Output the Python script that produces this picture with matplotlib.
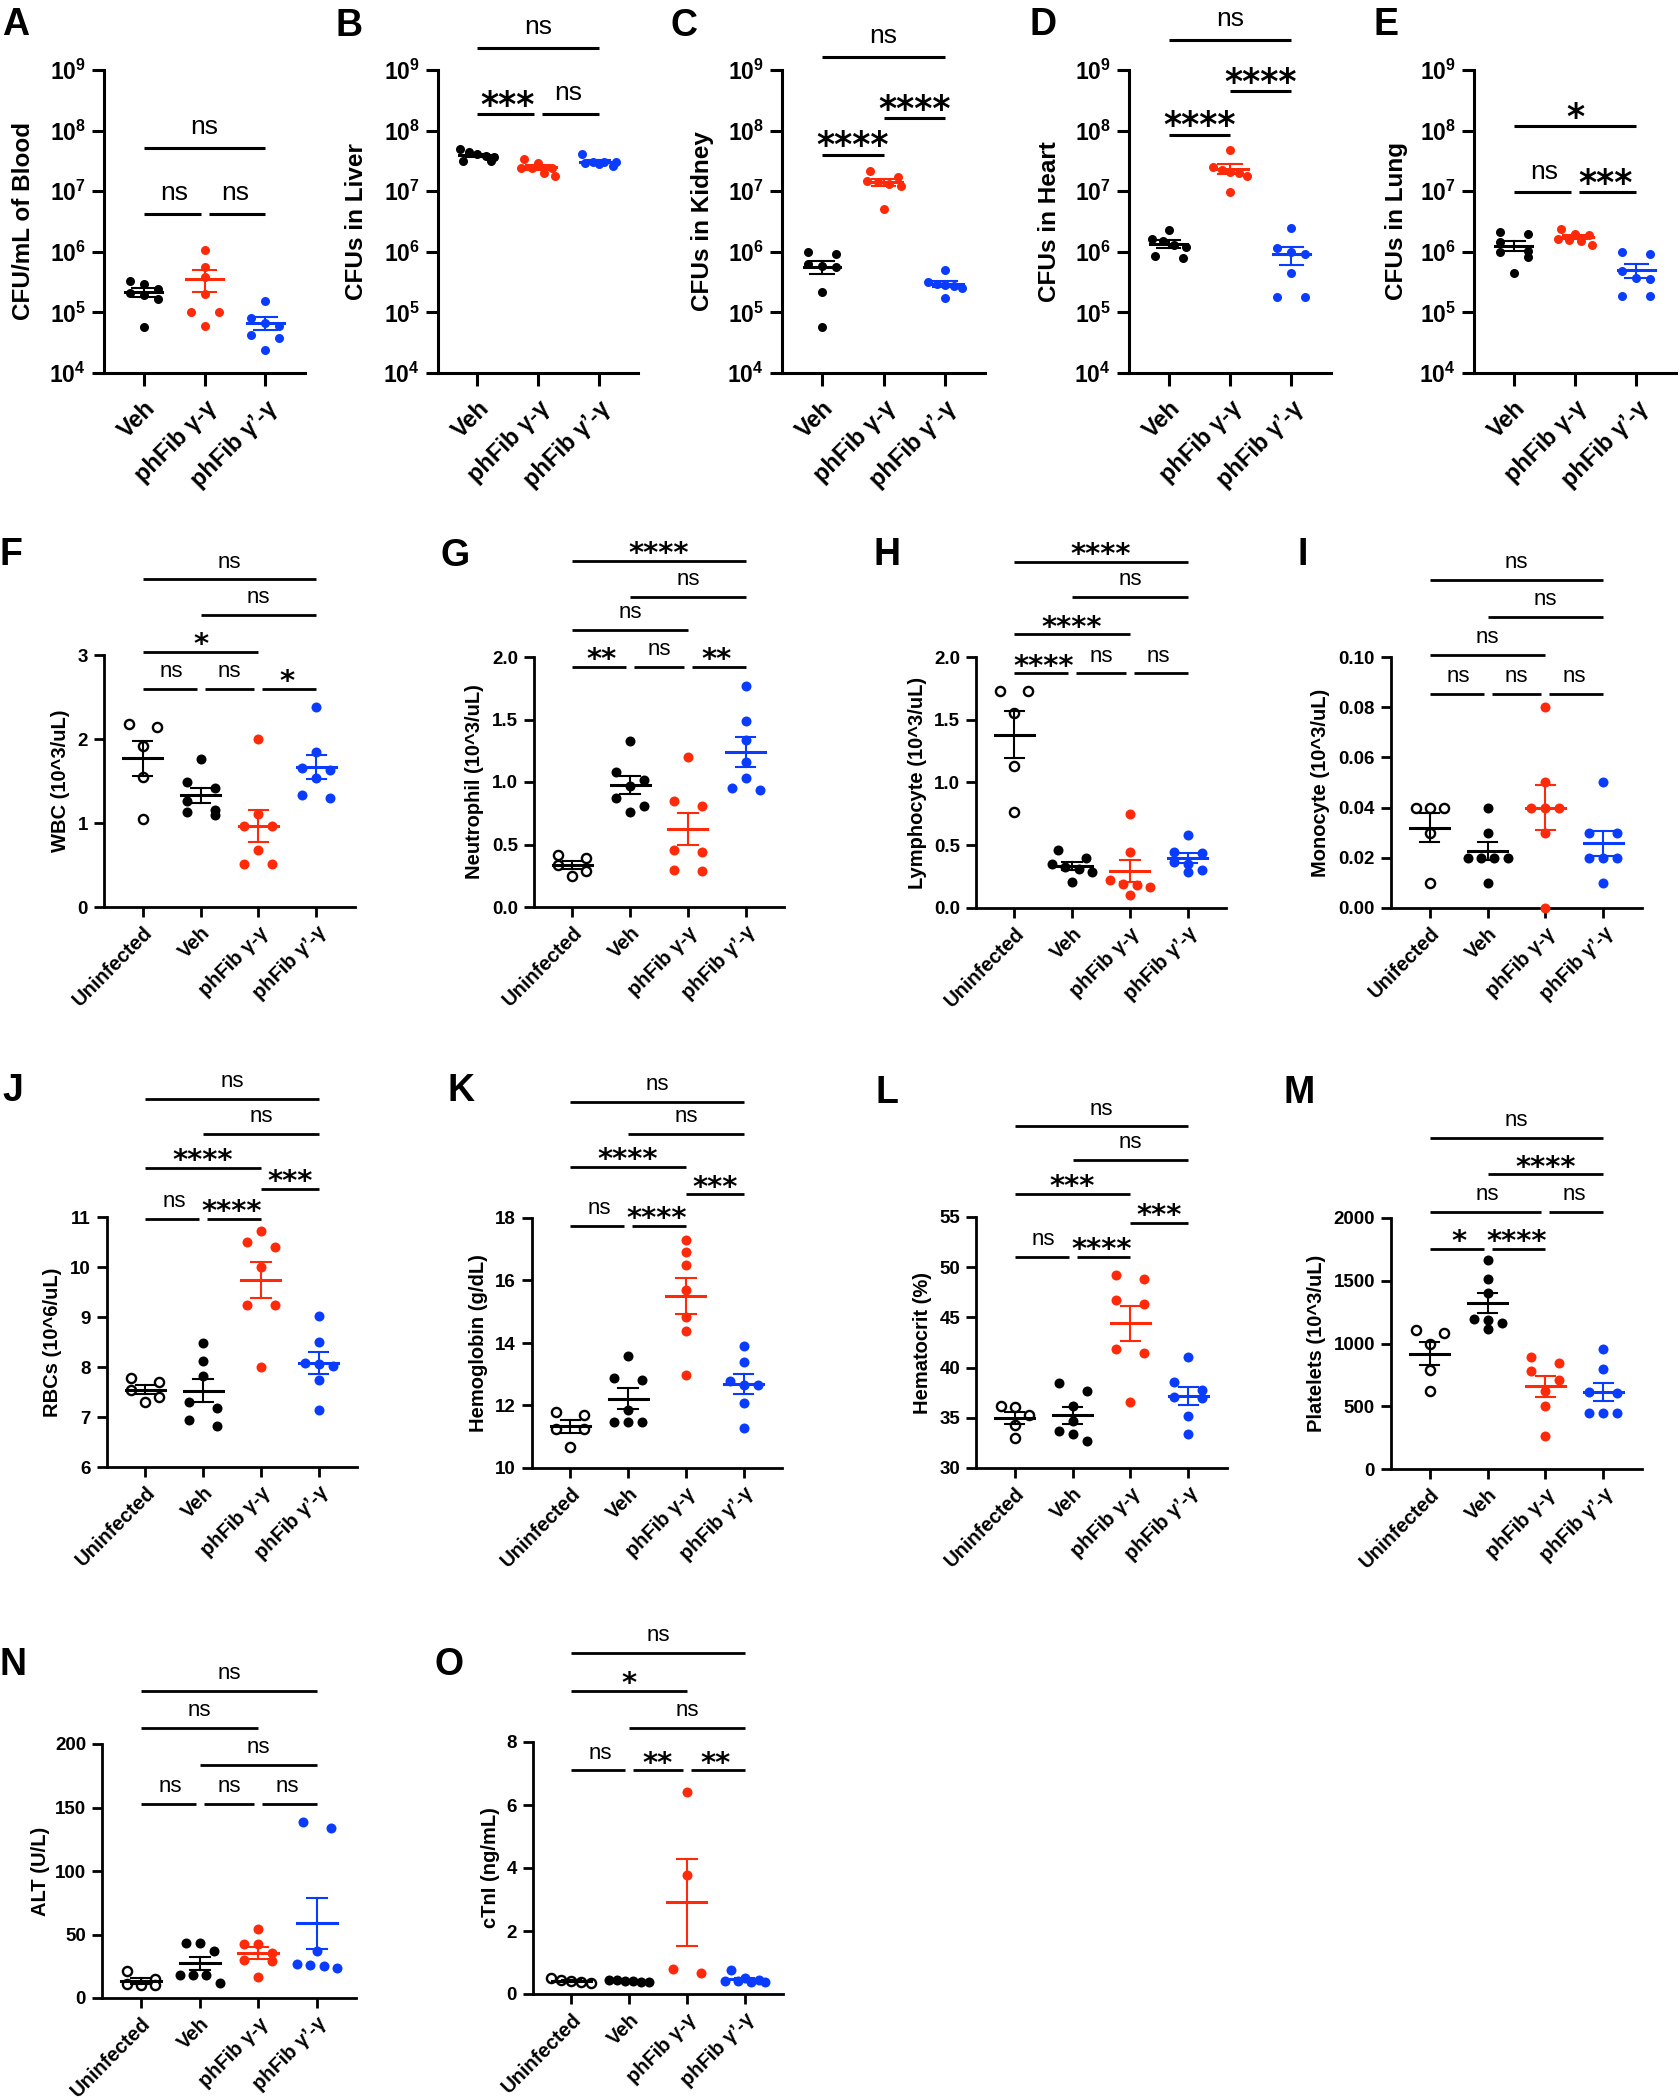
import numpy as np
import matplotlib
matplotlib.use('Agg')
import matplotlib.pyplot as plt
from matplotlib.ticker import NullLocator
from matplotlib.transforms import blended_transform_factory

plt.rcParams['font.family'] = ['Liberation Sans', 'DejaVu Sans']
plt.rcParams['mathtext.fontset'] = 'custom'
plt.rcParams['mathtext.rm'] = 'Liberation Sans:bold'
plt.rcParams['mathtext.bf'] = 'Liberation Sans:bold'

W, H = 1680, 2100
RED = '#FF2A0A'
BLUE = '#0A3CFF'

# group names
groups_cfu = ['Veh', 'phFib γ-γ', 'phFib γ’-γ']
groups_blood = ['Uninfected', 'Veh', 'phFib γ-γ', 'phFib γ’-γ']
groups_mono = ['Unifected', 'Veh', 'phFib γ-γ', 'phFib γ’-γ']

# bacterial burden (CFU), groups: Veh, phFib g-g, phFib g'-g
cfu_blood = [[3.3e5, 2.97e5, 2.45e5, 2.1e5, 1.95e5, 1.66e5, 5.7e4],
             [1.07e6, 5.6e5, 3.9e5, 2.04e5, 1.02e5, 1.02e5, 5.9e4],
             [1.55e5, 8.2e4, 6.6e4, 5.9e4, 4.3e4, 3.8e4, 2.4e4]]
cfu_liver = [[4.9e7, 4.5e7, 4.1e7, 3.8e7, 3.6e7, 3.2e7, 3.1e7],
             [3.4e7, 2.9e7, 2.45e7, 2.4e7, 2.4e7, 2.0e7, 1.8e7],
             [4.1e7, 3.0e7, 3.0e7, 3.0e7, 2.9e7, 2.8e7, 2.6e7]]
cfu_kidney = [[1.0e6, 9.1e5, 6.2e5, 5.9e5, 5.6e5, 2.2e5, 5.8e4],
              [2.14e7, 1.7e7, 1.5e7, 1.4e7, 1.3e7, 1.2e7, 5.1e6],
              [5.0e5, 3.2e5, 2.9e5, 2.8e5, 2.7e5, 2.5e5, 1.75e5]]
cfu_heart = [[2.3e6, 1.6e6, 1.5e6, 1.3e6, 1.2e6, 8.4e5, 7.8e5],
             [4.8e7, 2.5e7, 2.2e7, 2.1e7, 2.0e7, 1.8e7, 9.8e6],
             [2.5e6, 1.17e6, 1.0e6, 9.2e5, 4.5e5, 1.77e5, 1.77e5]]
cfu_lung = [[2.1e6, 2.0e6, 1.45e6, 1.04e6, 9.8e5, 8.1e5, 4.4e5],
            [2.4e6, 2.0e6, 1.9e6, 1.6e6, 1.55e6, 1.5e6, 1.3e6],
            [1.0e6, 9.1e5, 4.8e5, 3.7e5, 3.5e5, 1.9e5, 1.9e5]]

# blood counts, groups: Uninfected, Veh, phFib g-g, phFib g'-g
wbc = [[2.18, 2.14, 1.92, 1.55, 1.05],
       [1.76, 1.49, 1.42, 1.26, 1.15, 1.13, 1.09],
       [2.0, 1.11, 0.97, 0.97, 0.68, 0.51, 0.51],
       [2.38, 1.84, 1.65, 1.63, 1.53, 1.33, 1.30]]
neutrophil = [[0.42, 0.39, 0.34, 0.29, 0.25],
              [1.33, 1.08, 1.02, 0.97, 0.875, 0.81, 0.76],
              [1.20, 0.85, 0.81, 0.46, 0.44, 0.30, 0.29],
              [1.77, 1.49, 1.34, 1.16, 1.03, 0.95, 0.94]]
lymphocyte = [[1.73, 1.73, 1.55, 1.13, 0.765],
              [0.46, 0.40, 0.35, 0.33, 0.31, 0.29, 0.21],
              [0.75, 0.45, 0.22, 0.19, 0.18, 0.17, 0.10],
              [0.58, 0.45, 0.44, 0.37, 0.35, 0.30, 0.29]]
monocyte = [[0.04, 0.04, 0.04, 0.03, 0.01],
            [0.04, 0.03, 0.02, 0.02, 0.02, 0.02, 0.01],
            [0.08, 0.05, 0.04, 0.04, 0.04, 0.03, 0.00],
            [0.05, 0.03, 0.03, 0.02, 0.02, 0.02, 0.01]]
rbc = [[7.79, 7.70, 7.55, 7.40, 7.30],
       [8.48, 8.12, 7.83, 7.31, 7.19, 6.95, 6.82],
       [10.72, 10.5, 10.41, 10.01, 9.25, 9.25, 8.01],
       [9.02, 8.51, 8.08, 8.07, 8.03, 7.75, 7.15]]
hemoglobin = [[11.80, 11.69, 11.24, 11.24, 10.67],
              [13.58, 12.87, 12.81, 11.85, 11.48, 11.48, 11.48],
              [17.30, 16.90, 16.48, 15.70, 14.84, 14.38, 12.97],
              [13.90, 13.38, 12.78, 12.67, 12.67, 12.09, 11.28]]
hematocrit = [[36.2, 36.1, 35.3, 34.3, 33.0],
              [38.5, 37.7, 36.2, 34.65, 33.65, 33.4, 32.7],
              [49.2, 48.8, 46.7, 46.3, 41.9, 41.5, 36.6],
              [41.1, 38.6, 37.8, 37.1, 37.0, 35.2, 33.4]]
platelets = [[1106, 1080, 1000, 788, 623],
             [1663, 1512, 1403, 1199, 1191, 1164, 1119],
             [889, 841, 782, 708, 623, 501, 263],
             [955, 793, 615, 602, 448, 443, 443]]
alt = [[21, 15, 11, 10, 10],
       [43.3, 43.3, 36.7, 18.4, 18.4, 18.4, 11.8],
       [54.3, 42.5, 42.5, 35.4, 30.0, 28.9, 16.3],
       [138.6, 133.9, 36.7, 26.8, 26.2, 24.9, 24.0]]
ctni = [[0.50, 0.45, 0.40, 0.38, 0.35],
        [0.46, 0.43, 0.41, 0.40, 0.38, 0.37],
        [6.42, 3.77, 0.79, 0.66],
        [0.76, 0.50, 0.45, 0.42, 0.40, 0.38, 0.38]]

# significance bars: (group i, group j, height in axes fraction, label)
stats = {
    'A': [(0, 2, 0.742, 'ns'), (0, 1, 0.526, 'ns'), (1, 2, 0.526, 'ns')],
    'B': [(0, 2, 1.072, 'ns'), (0, 1, 0.854, '***'), (1, 2, 0.854, 'ns')],
    'C': [(0, 2, 1.042, 'ns'), (1, 2, 0.84, '****'), (0, 1, 0.72, '****')],
    'D': [(0, 2, 1.098, 'ns'), (1, 2, 0.93, '****'), (0, 1, 0.786, '****')],
    'E': [(0, 2, 0.814, '*'), (0, 1, 0.596, 'ns'), (1, 2, 0.596, '***')],
    'F': [(0, 3, 1.30, 'ns'), (1, 3, 1.16, 'ns'), (0, 2, 1.013, '*'),
          (0, 1, 0.867, 'ns'), (1, 2, 0.867, 'ns'), (2, 3, 0.867, '*')],
    'G': [(0, 3, 1.385, '****'), (1, 3, 1.24, 'ns'), (0, 2, 1.11, 'ns'),
          (0, 1, 0.96, '**'), (1, 2, 0.96, 'ns'), (2, 3, 0.96, '**')],
    'H': [(0, 3, 1.38, '****'), (1, 3, 1.24, 'ns'), (0, 2, 1.09, '****'),
          (0, 1, 0.935, '****'), (1, 2, 0.935, 'ns'), (2, 3, 0.935, 'ns')],
    'I': [(0, 3, 1.307, 'ns'), (1, 3, 1.159, 'ns'), (0, 2, 1.009, 'ns'),
          (0, 1, 0.854, 'ns'), (1, 2, 0.854, 'ns'), (2, 3, 0.854, 'ns')],
    'J': [(0, 3, 1.474, 'ns'), (1, 3, 1.334, 'ns'), (0, 2, 1.198, '****'),
          (2, 3, 1.114, '***'), (0, 1, 0.994, 'ns'), (1, 2, 0.994, '****')],
    'K': [(0, 3, 1.464, 'ns'), (1, 3, 1.3375, 'ns'), (0, 2, 1.205, '****'),
          (2, 3, 1.094, '***'), (0, 1, 0.969, 'ns'), (1, 2, 0.969, '****')],
    'L': [(0, 3, 1.361, 'ns'), (1, 3, 1.226, 'ns'), (0, 2, 1.093, '***'),
          (2, 3, 0.976, '***'), (0, 1, 0.842, 'ns'), (1, 2, 0.842, '****')],
    'M': [(0, 3, 1.3185, 'ns'), (1, 3, 1.1735, '****'), (0, 2, 1.024, 'ns'),
          (2, 3, 1.024, 'ns'), (0, 1, 0.878, '*'), (1, 2, 0.878, '****')],
    'N': [(0, 3, 1.2075, 'ns'), (0, 2, 1.063, 'ns'), (1, 3, 0.9185, 'ns'),
          (0, 1, 0.764, 'ns'), (1, 2, 0.764, 'ns'), (2, 3, 0.764, 'ns')],
    'O': [(0, 3, 1.3525, 'ns'), (0, 2, 1.2025, '*'), (1, 3, 1.0575, 'ns'),
          (0, 1, 0.8875, 'ns'), (1, 2, 0.8875, '**'), (2, 3, 0.8875, '**')],
}

log_ticks = [1e4, 1e5, 1e6, 1e7, 1e8, 1e9]
log_labels = [r'$\mathbf{10^{%d}}$' % k for k in range(4, 10)]

# panel definitions: axes box in pixels (left, right, top, bottom), letter position, ylabel offset
panels = [
    dict(key='A', data=cfu_blood, groups=groups_cfu, ylabel='CFU/mL of Blood', log=True,
         box=(104, 305, 70, 373), lab=(2, 7), yl=-80),
    dict(key='B', data=cfu_liver, groups=groups_cfu, ylabel='CFUs in Liver', log=True,
         box=(438, 638, 70, 373), lab=(335, 8), yl=-82),
    dict(key='C', data=cfu_kidney, groups=groups_cfu, ylabel='CFUs in Kidney', log=True,
         box=(782, 985, 70, 373), lab=(671, 8), yl=-79),
    dict(key='D', data=cfu_heart, groups=groups_cfu, ylabel='CFUs in Heart', log=True,
         box=(1129, 1331, 70, 373), lab=(1030, 7), yl=-79),
    dict(key='E', data=cfu_lung, groups=groups_cfu, ylabel='CFUs in Lung', log=True,
         box=(1474, 1676, 70, 373), lab=(1373, 7), yl=-77),
    dict(key='F', data=wbc, groups=groups_blood, ylabel='WBC (10^3/uL)',
         ylim=(0, 3), ticks=[0, 1, 2, 3], fmt='{:.0f}',
         box=(104, 355, 655, 907), lab=(0, 537), yl=-43),
    dict(key='G', data=neutrophil, groups=groups_blood, ylabel='Neutrophil (10^3/uL)',
         ylim=(0, 2), ticks=[0, 0.5, 1, 1.5, 2], fmt='{:.1f}',
         box=(534, 784, 657, 907), lab=(440, 538), yl=-59),
    dict(key='H', data=lymphocyte, groups=groups_blood, ylabel='Lymphocyte (10^3/uL)',
         ylim=(0, 2), ticks=[0, 0.5, 1, 1.5, 2], fmt='{:.1f}',
         box=(976, 1226, 657, 908), lab=(873, 537), yl=-59),
    dict(key='I', data=monocyte, groups=groups_mono, ylabel='Monocyte (10^3/uL)',
         ylim=(0, 0.1), ticks=[0, 0.02, 0.04, 0.06, 0.08, 0.10], fmt='{:.2f}',
         box=(1391, 1642, 657, 908), lab=(1298, 537), yl=-70),
    dict(key='J', data=rbc, groups=groups_blood, ylabel='RBCs (10^6/uL)',
         ylim=(6, 11), ticks=[6, 7, 8, 9, 10, 11], fmt='{:.0f}',
         box=(107, 357, 1217, 1467), lab=(2, 1073), yl=-54),
    dict(key='K', data=hemoglobin, groups=groups_blood, ylabel='Hemoglobin (g/dL)',
         ylim=(10, 18), ticks=[10, 12, 14, 16, 18], fmt='{:.0f}',
         box=(532, 782, 1218, 1468), lab=(447, 1073), yl=-53),
    dict(key='L', data=hematocrit, groups=groups_blood, ylabel='Hematocrit (%)',
         ylim=(30, 55), ticks=[30, 35, 40, 45, 50, 55], fmt='{:.0f}',
         box=(976, 1227, 1217, 1468), lab=(875, 1075), yl=-54),
    dict(key='M', data=platelets, groups=groups_blood, ylabel='Platelets (10^3/uL)',
         ylim=(0, 2000), ticks=[0, 500, 1000, 1500, 2000], fmt='{:.0f}',
         box=(1391, 1642, 1218, 1469), lab=(1283, 1075), yl=-75),
    dict(key='N', data=alt, groups=groups_blood, ylabel='ALT (U/L)',
         ylim=(0, 200), ticks=[0, 50, 100, 150, 200], fmt='{:.0f}',
         box=(102, 356, 1744, 1998), lab=(0, 1647), yl=-62),
    dict(key='O', data=ctni, groups=groups_blood, ylabel='cTnI (ng/mL)',
         ylim=(0, 8), ticks=[0, 2, 4, 6, 8], fmt='{:.0f}',
         box=(533, 783, 1742, 1994), lab=(434, 1647), yl=-42),
]

big = dict(tick=16.5, xtick=17, ylab=17.5, ns=19, star=25, ns_off=10, star_off=-1,
           ms=6.5, lw=2.2, ticklen=9, mean_hw=0.30, cap_hw=0.19, xpad=8, pad=0.65,
           step=14, maxhw=17)
small = dict(tick=13.5, xtick=14.5, ylab=14.5, ns=16, star=21, ns_off=8.5, star_off=-1,
             ms=7.2, lw=2.0, ticklen=7.5, mean_hw=0.34, cap_hw=0.17, xpad=4, pad=0.665,
             step=14, maxhw=20)


def swarm_x(ax, xc, vals, diam, step, maxhw):
    # simple beeswarm: points at similar heights are spread sideways
    pts = ax.transData.transform([(xc, v) for v in vals])
    ys = pts[:, 1]
    unit = ax.transData.transform((1, 0))[0] - ax.transData.transform((0, 0))[0]
    order = np.argsort(-ys, kind='stable')
    rows = []
    for i in order:
        if rows and abs(ys[rows[-1][0]] - ys[i]) < diam:
            rows[-1].append(i)
        else:
            rows.append([i])
    xs = np.full(len(vals), float(xc))
    for row in rows:
        n = len(row)
        if n == 1:
            offs = np.array([0.0])
        elif n == 2:
            offs = np.array([-1.0, 1.0])
        elif n % 2:
            offs = np.arange(n) - n // 2
        else:
            offs = np.arange(n) - (n - 1) / 2
        s = step
        if n > 1 and np.abs(offs).max() * s > maxhw:
            s = maxhw / np.abs(offs).max()
        for i, o in zip(row, offs):
            xs[i] = xc + o * s / unit
    return xs


fig = plt.figure(figsize=(W / 100, H / 100), dpi=100)

for p in panels:
    st = big if p.get('log') else small
    x0, x1, yt, yb = p['box']
    ax = fig.add_axes([x0 / W, 1 - yb / H, (x1 - x0) / W, (yb - yt) / H])
    ax.patch.set_visible(False)
    n = len(p['data'])
    ax.set_xlim(-st['pad'], n - 1 + st['pad'])
    if p.get('log'):
        ax.set_yscale('log')
        ax.set_ylim(1e4, 1e9)
        ax.set_yticks(log_ticks)
        ax.set_yticklabels(log_labels, fontsize=st['tick'])
        ax.yaxis.set_minor_locator(NullLocator())
    else:
        ax.set_ylim(*p['ylim'])
        ax.set_yticks(p['ticks'])
        ax.set_yticklabels([p['fmt'].format(t) for t in p['ticks']],
                           fontsize=st['tick'], fontweight='bold')
    ax.set_xticks(range(n))
    ax.set_xticklabels(p['groups'], rotation=45, ha='right', rotation_mode='anchor',
                       fontsize=st['xtick'], fontweight='bold')
    for s in ['top', 'right']:
        ax.spines[s].set_visible(False)
    for s in ['left', 'bottom']:
        ax.spines[s].set_linewidth(st['lw'])
    ax.tick_params(length=st['ticklen'], width=st['lw'])
    ax.tick_params(axis='x', pad=st['xpad'])
    ax.tick_params(axis='y', pad=4)

    ax.text(p['yl'] / (x1 - x0), 0.5, p['ylabel'], transform=ax.transAxes, rotation=90,
            ha='center', va='center', fontsize=st['ylab'], fontweight='bold')

    if n == 3:
        cols = ['black', RED, BLUE]
        hollow = [False, False, False]
    else:
        cols = ['black', 'black', RED, BLUE]
        hollow = [True, False, False, False]

    diam = st['ms'] * 100 / 72
    for gi, vals in enumerate(p['data']):
        vals = np.asarray(vals, float)
        xs = swarm_x(ax, gi, vals, diam, st['step'], st['maxhw'])
        c = cols[gi]
        if hollow[gi]:
            ax.plot(xs, vals, 'o', ms=st['ms'] - 0.6, mfc='white', mec=c, mew=1.7,
                    clip_on=False, zorder=3)
        else:
            ax.plot(xs, vals, 'o', ms=st['ms'], mfc=c, mec='none', clip_on=False, zorder=3)
        m = vals.mean()
        se = vals.std(ddof=1) / np.sqrt(len(vals))
        ax.plot([gi - st['mean_hw'], gi + st['mean_hw']], [m, m], color=c, lw=2.2,
                clip_on=False, zorder=4)
        ax.plot([gi, gi], [m - se, m + se], color=c, lw=1.5, clip_on=False, zorder=4)
        for yy in (m - se, m + se):
            ax.plot([gi - st['cap_hw'], gi + st['cap_hw']], [yy, yy], color=c, lw=1.5,
                    clip_on=False, zorder=4)

    # significance bars
    tr = blended_transform_factory(ax.transData, ax.transAxes)
    sp_px = (x1 - x0) / (n - 1 + 2 * st['pad'])
    gap = 4 / sp_px
    bars = stats[p['key']]
    for (i, j, yf, lab) in bars:
        same = [b for b in bars if b[2] == yf and (b[0], b[1]) != (i, j)]
        left = i + (gap if any(b[1] == i for b in same) else 0)
        right = j - (gap if any(b[0] == j for b in same) else 0)
        ax.plot([left, right], [yf, yf], color='black', lw=st['lw'], transform=tr,
                clip_on=False, solid_capstyle='butt')
        if lab == 'ns':
            ax.annotate(lab, xy=((i + j) / 2, yf), xycoords=tr, xytext=(0, st['ns_off']),
                        textcoords='offset points', ha='center', va='baseline',
                        fontsize=st['ns'], fontweight='normal')
        else:
            ax.annotate(lab, xy=((i + j) / 2, yf), xycoords=tr, xytext=(0, st['star_off']),
                        textcoords='offset points', ha='center', va='baseline',
                        fontsize=st['star'], fontweight='bold', family='DejaVu Sans')

    fig.text(p['lab'][0] / W, 1 - p['lab'][1] / H, p['key'], ha='left', va='top',
             fontsize=27, fontweight='bold')

fig.savefig('out.png', dpi=100)
